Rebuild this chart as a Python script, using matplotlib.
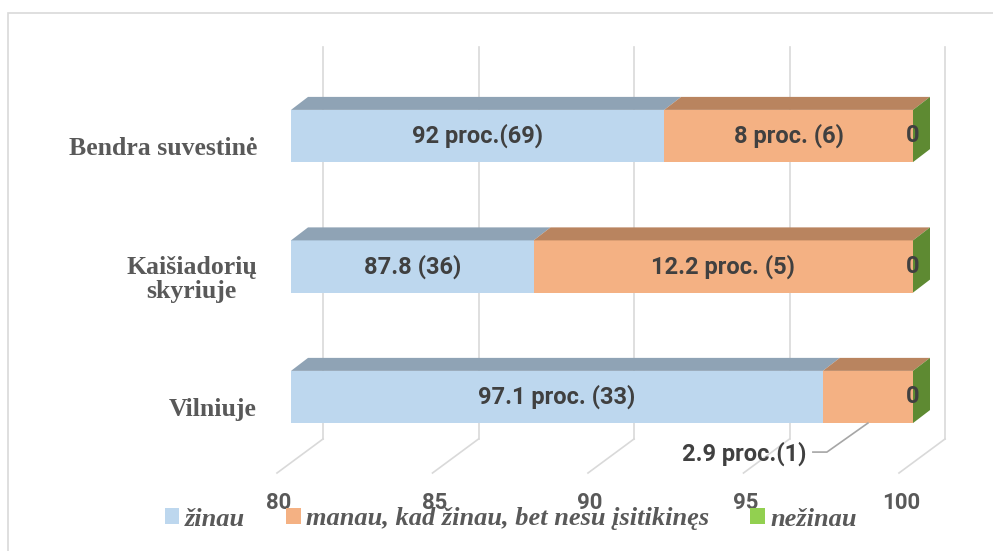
import matplotlib
matplotlib.use('Agg')
import matplotlib.pyplot as plt
from matplotlib.patches import Polygon, Rectangle, Patch
from matplotlib.transforms import offset_copy
import numpy as np

# data (bottom to top)
categories = ['Vilniuje', 'Kaišiadorių\nskyriuje', 'Bendra suvestinė']
zinau = [97.1, 87.8, 92]
manau = [2.9, 12.2, 8]
nezinau = [0, 0, 0]
zinau_labels = ['97.1 proc. (33)', '87.8 (36)', '92 proc.(69)']
manau_labels = ['2.9 proc.(1)', '12.2 proc. (5)', '8 proc. (6)']
nezinau_labels = ['0', '0', '0']
series_names = ['žinau', 'manau, kad žinau, bet nesu įsitikinęs', 'nežinau']
ticks = [80, 85, 90, 95, 100]

front_colors = ['#BDD7EE', '#F4B183', '#92D050']
top_colors = ['#8FA3B5', '#B9845F', '#6A9A3A']
side_color = '#5E8A32'
grid_color = '#D9D9D9'

sans = ['Roboto', 'DejaVu Sans']
serif = ['Liberation Serif', 'DejaVu Serif']

fig = plt.figure(figsize=(9.93, 5.51), dpi=100)
W, H = 993, 551
ax = fig.add_axes([291 / W, (H - 439) / H, 622 / W, 392 / H])
ax.set_xlim(80, 100)
ax.set_ylim(-0.322, 2.682)
ax.axis('off')

# outer chart border
fig.add_artist(Rectangle((8 / W, -0.1), 1.2, 1 - 13 / H + 0.1, transform=fig.transFigure,
                         fill=False, edgecolor=grid_color, linewidth=1.2))


def shifted(x, y, dx, dy):
    p = ax.transData.transform((x, y)) + np.array([dx, dy])
    return ax.transData.inverted().transform(p)


def offset(dx, dy):
    return offset_copy(ax.transData, fig=fig, x=dx, y=dy, units='dots')


DX, DY = 17, 13  # bar depth in pixels
BACK = 32        # back wall offset
bar_h = 0.4
ymin, ymax = ax.get_ylim()

# back wall + floor gridlines
for v in ticks:
    ax.plot([v, v], [ymin, ymax], color=grid_color, lw=1.2, transform=offset(BACK, 0),
            clip_on=False, zorder=1)
    p0 = shifted(v, ymin, BACK, 0)
    p1 = shifted(v, ymin, BACK - 46, -34)
    ax.plot([p0[0], p1[0]], [p0[1], p1[1]], color=grid_color, lw=1.2, clip_on=False, zorder=1)
    ax.text(v, ymin, str(v), transform=offset(-12, -64), ha='center', va='center',
            family=sans, weight='bold', fontsize=16, color='#595959')

y = np.arange(len(categories))
series = [zinau, manau, nezinau]
labels = [zinau_labels, manau_labels, nezinau_labels]
start = np.zeros(len(categories))
for s, vals in enumerate(series):
    vals = np.array(vals, dtype=float)
    end = start + vals
    x0 = np.maximum(start, 80)
    x1 = np.maximum(end, 80)
    ax.barh(y, x1 - x0, left=x0, height=bar_h, color=front_colors[s], zorder=3)
    for i in range(len(y)):
        yt = y[i] + bar_h / 2
        yb = y[i] - bar_h / 2
        top = [(x0[i], yt), (x1[i], yt), tuple(shifted(x1[i], yt, DX, DY)),
               tuple(shifted(x0[i], yt, DX, DY))]
        ax.add_patch(Polygon(top, closed=True, facecolor=top_colors[s], edgecolor='none',
                             zorder=3, clip_on=False))
        if s == len(series) - 1:
            side = [(x1[i], yb), (x1[i], yt), tuple(shifted(x1[i], yt, DX, DY)),
                    tuple(shifted(x1[i], yb, DX, DY))]
            ax.add_patch(Polygon(side, closed=True, facecolor=side_color, edgecolor='none',
                                 zorder=3, clip_on=False))
        xc = (x0[i] + x1[i]) / 2
        txt = labels[s][i]
        style = dict(family=sans, weight='bold', fontsize=17, color='#404040', zorder=5)
        if vals[i] == 0 or vals[i] >= 5:
            ax.text(xc, y[i], txt, ha='center', va='center', **style)
        else:
            p0 = shifted(xc, yb, 0, 0)
            p1 = shifted(xc, yb, -41, -29)
            p2 = shifted(xc, yb, -55, -29)
            ax.plot([p0[0], p1[0], p2[0]], [p0[1], p1[1], p2[1]], color='#A6A6A6', lw=1.2,
                    clip_on=False, zorder=4)
            ax.text(xc, yb, txt, transform=offset(-62, -31), ha='right', va='center', **style)
    start = end

for i, cat in enumerate(categories):
    ax.text(80, y[i], cat, transform=offset(-34, -13), ha='right', va='center',
            multialignment='center', family=serif, weight='bold', fontsize=18.5,
            color='#595959', linespacing=1.1)

handles = [Patch(facecolor=c, edgecolor='none') for c in front_colors]
fig.legend(handles, series_names, loc='center', bbox_to_anchor=(511 / W, 1 - 519 / H),
           ncol=3, frameon=False, handlelength=0.55, handleheight=0.55, handletextpad=0.22,
           columnspacing=1.55, labelcolor='#595959',
           prop=dict(family=serif, weight='bold', style='italic', size=19))

fig.savefig('out.png', dpi=100)
